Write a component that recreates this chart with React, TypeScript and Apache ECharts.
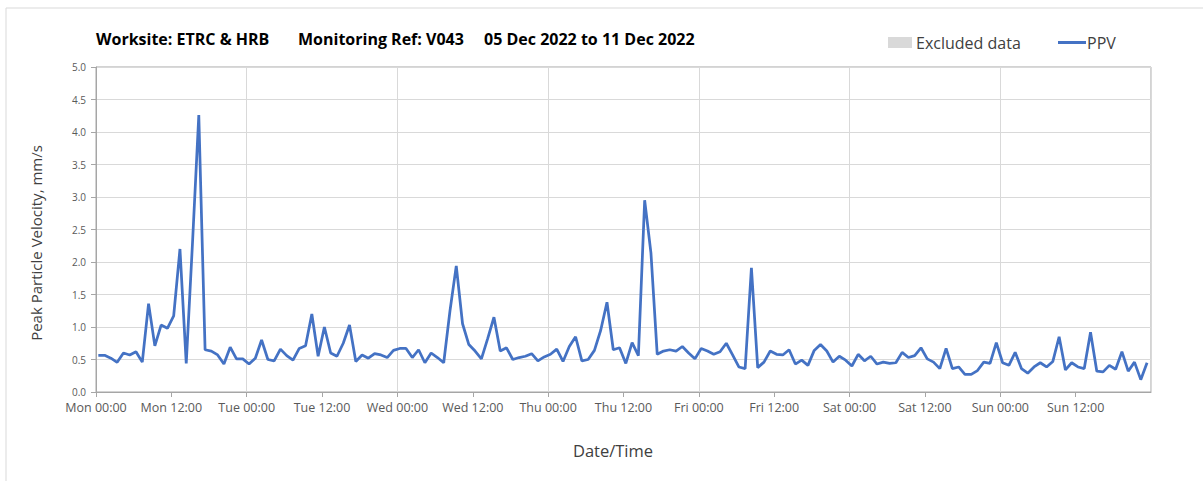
import React, { useEffect, useRef } from "react";
import * as echarts from "echarts";

// Hourly PPV readings, Mon 00:00 .. Sun 23:00 (mm/s)
const ppv: number[] = [
  // Mon
  0.565, 0.565, 0.52, 0.457, 0.6, 0.57, 0.62, 0.46, 1.36, 0.71, 1.03, 0.98,
  1.17, 2.2, 0.44, 2.3, 4.26, 0.65, 0.63, 0.57, 0.43, 0.69, 0.51, 0.51,
  // Tue
  0.43, 0.52, 0.8, 0.5, 0.48, 0.66, 0.56, 0.49, 0.67, 0.71, 1.2, 0.55,
  1.0, 0.6, 0.55, 0.75, 1.03, 0.47, 0.57, 0.52, 0.59, 0.57, 0.53, 0.64,
  // Wed
  0.67, 0.67, 0.53, 0.65, 0.45, 0.6, 0.53, 0.45, 1.25, 1.94, 1.05, 0.73,
  0.63, 0.51, 0.82, 1.15, 0.63, 0.68, 0.5, 0.53, 0.55, 0.59, 0.48, 0.54,
  // Thu
  0.58, 0.66, 0.47, 0.7, 0.85, 0.48, 0.5, 0.64, 0.95, 1.38, 0.65, 0.68,
  0.44, 0.76, 0.56, 2.95, 2.14, 0.58, 0.63, 0.65, 0.63, 0.7, 0.6, 0.51,
  // Fri
  0.67, 0.63, 0.58, 0.62, 0.75, 0.57, 0.385, 0.36, 1.91, 0.375, 0.46, 0.63,
  0.58, 0.57, 0.65, 0.43, 0.49, 0.41, 0.64, 0.73, 0.63, 0.46, 0.55, 0.49,
  // Sat
  0.4, 0.58, 0.48, 0.55, 0.43, 0.46, 0.44, 0.45, 0.61, 0.53, 0.56, 0.68,
  0.51, 0.46, 0.36, 0.67, 0.36, 0.385, 0.27, 0.27, 0.33, 0.46, 0.44, 0.76,
  // Sun
  0.45, 0.41, 0.61, 0.36, 0.29, 0.385, 0.45, 0.385, 0.47, 0.85, 0.34, 0.45,
  0.385, 0.36, 0.92, 0.32, 0.31, 0.41, 0.35, 0.62, 0.32, 0.46, 0.19, 0.45,
];

const dayNames: string[] = ["Mon", "Tue", "Wed", "Thu", "Fri", "Sat", "Sun"];
const readingOffsetHours = 0.37; // readings logged ~22 min past each hour
const titleParts: string[] = [
  "Worksite: ETRC & HRB",
  "Monitoring Ref: V043",
  "05 Dec 2022 to 11 Dec 2022",
];
const legendNames: string[] = ["Excluded data", "PPV"];
const yTitle = "Peak Particle Velocity, mm/s";
const xTitle = "Date/Time";

const FONT = "'Open Sans', 'Noto Sans', sans-serif";

export default function App() {
  const ref = useRef<HTMLDivElement>(null);

  useEffect(() => {
    if (!ref.current) return;
    const chart = echarts.init(ref.current, undefined, { renderer: "svg" });
    const data = ppv.map((v, i) => [i + readingOffsetHours, v]);

    const titleStyle = (text: string) => ({
      text,
      font: `bold 16px ${FONT}`,
      fill: "#000000",
      verticalAlign: "middle",
    });

    chart.setOption({
      animation: false,
      backgroundColor: "#ffffff",
      grid: {
        left: 96,
        right: 52,
        top: 67,
        bottom: 89,
        show: true,
        borderColor: "#a6a6a6",
        borderWidth: 1,
      },
      xAxis: [
        {
          type: "value",
          min: 0,
          max: 168,
          interval: 12,
          axisLine: { show: true, lineStyle: { color: "#a6a6a6", width: 1 } },
          axisTick: { show: true, length: 5, lineStyle: { color: "#a6a6a6" } },
          splitLine: { show: false },
          axisLabel: {
            showMaxLabel: false,
            color: "#595959",
            fontFamily: FONT,
            fontSize: 12.5,
            margin: 9,
            formatter: (v: number) => {
              const d = Math.floor(v / 24);
              if (d >= dayNames.length) return "";
              return dayNames[d] + (v % 24 === 0 ? " 00:00" : " 12:00");
            },
          },
        },
        {
          type: "value",
          min: 0,
          max: 168,
          interval: 24,
          position: "bottom",
          axisLine: { show: false },
          axisTick: { show: false },
          axisLabel: { show: false },
          splitLine: { show: true, lineStyle: { color: "#d9d9d9", width: 1 } },
        },
      ],
      yAxis: {
        type: "value",
        min: 0,
        max: 5,
        interval: 0.5,
        axisLine: { show: true, lineStyle: { color: "#a6a6a6", width: 1 } },
        axisTick: { show: true, length: 5, lineStyle: { color: "#a6a6a6" } },
        splitLine: { show: true, lineStyle: { color: "#d9d9d9", width: 1 } },
        axisLabel: {
          color: "#595959",
          fontFamily: FONT,
          fontSize: 10,
          margin: 10,
          formatter: (v: number) => v.toFixed(1),
        },
      },
      series: [
        {
          name: legendNames[1],
          type: "line",
          xAxisIndex: 0,
          data,
          showSymbol: false,
          lineStyle: { color: "#4472c4", width: 2.75 },
          itemStyle: { color: "#4472c4" },
        },
      ],
      graphic: [
        {
          type: "rect",
          silent: true,
          shape: { x: 6, y: 8, width: 1400, height: 700 },
          style: { fill: "none", stroke: "#d9d9d9", lineWidth: 1 },
          z: -10,
        },
        { type: "text", x: 96, y: 39, style: titleStyle(titleParts[0]) },
        { type: "text", x: 298, y: 39, style: titleStyle(titleParts[1]) },
        { type: "text", x: 484, y: 39, style: titleStyle(titleParts[2]) },
        {
          type: "rect",
          shape: { x: 888, y: 37, width: 24, height: 11 },
          style: { fill: "#d9d9d9" },
        },
        {
          type: "text",
          x: 916,
          y: 43,
          style: {
            text: legendNames[0],
            font: `16px ${FONT}`,
            fill: "#404040",
            verticalAlign: "middle",
          },
        },
        {
          type: "line",
          shape: { x1: 1058, y1: 42.5, x2: 1086, y2: 42.5 },
          style: { stroke: "#4472c4", lineWidth: 3 },
        },
        {
          type: "text",
          x: 1087,
          y: 43,
          style: {
            text: legendNames[1],
            font: `16px ${FONT}`,
            fill: "#404040",
            verticalAlign: "middle",
          },
        },
        {
          type: "text",
          x: 36,
          y: 243,
          rotation: Math.PI / 2,
          style: {
            text: yTitle,
            font: `15px ${FONT}`,
            fill: "#404040",
            align: "center",
            verticalAlign: "middle",
          },
        },
        {
          type: "text",
          x: 613,
          y: 450,
          style: {
            text: xTitle,
            font: `16.5px ${FONT}`,
            fill: "#404040",
            align: "center",
            verticalAlign: "middle",
          },
        },
      ],
    });

    return () => chart.dispose();
  }, []);

  return (
    <div
      ref={ref}
      style={{ position: "absolute", left: 0, top: 0, width: 1203, height: 481 }}
    />
  );
}
